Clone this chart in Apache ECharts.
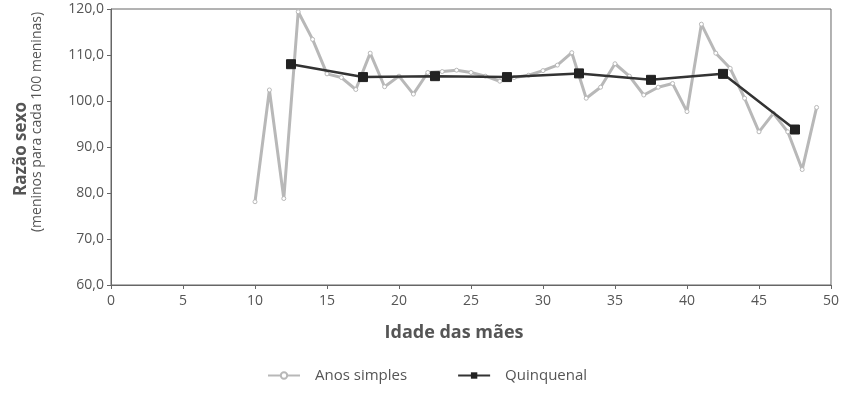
<!DOCTYPE html>
<html>
<head>
<meta charset="utf-8">
<script src="https://cdn.jsdelivr.net/npm/echarts@6/dist/echarts.min.js"></script>
<style>
  html, body { margin: 0; padding: 0; background: #fff; }
  #chart { width: 842px; height: 398px; }
</style>
</head>
<body>
<div id="chart"></div>
<script>
// Ages of the mothers (single years) and their sex ratio
const singleAges = [10, 11, 12, 13, 14, 15, 16, 17, 18, 19,
                    20, 21, 22, 23, 24, 25, 26, 27, 28, 29,
                    30, 31, 32, 33, 34, 35, 36, 37, 38, 39,
                    40, 41, 42, 43, 44, 45, 46, 47, 48, 49];
const singleRatio = [78.1, 102.4, 78.8, 119.4, 113.4, 105.9, 105.1, 102.5, 110.4, 103.1,
                     105.4, 101.5, 106.2, 106.4, 106.7, 106.2, 105.4, 104.3, 105.1, 105.6,
                     106.6, 107.8, 110.5, 100.6, 103.0, 108.1, 105.4, 101.3, 103.0, 103.8,
                     97.7, 116.7, 110.4, 107.1, 100.6, 93.3, 97.3, 93.3, 85.1, 98.6];

// Five-year groups, plotted at the group midpoint
const groupMid = [12.5, 17.5, 22.5, 27.5, 32.5, 37.5, 42.5, 47.5];
const groupRatio = [108.0, 105.2, 105.4, 105.2, 106.0, 104.6, 105.9, 93.8];

const textColor = '#555';
const fontFamily = '"Open Sans", "Noto Sans", sans-serif';

const chart = echarts.init(document.getElementById('chart'));

chart.setOption({
    animation: false,
    textStyle: { fontFamily: fontFamily },
    grid: {
        left: 111,
        right: 9,
        top: 9,
        bottom: 113,
        show: true,
        borderColor: '#666',
        borderWidth: 1
    },
    // axis titles placed by hand, the reference has them off-centre
    graphic: [
        {
            type: 'text',
            x: 21,
            y: 149,
            rotation: Math.PI / 2,
            style: {
                text: 'Razão sexo',
                align: 'center',
                verticalAlign: 'middle',
                fill: textColor,
                font: 'bold 17px ' + fontFamily
            }
        },
        {
            type: 'text',
            x: 37,
            y: 122,
            rotation: Math.PI / 2,
            style: {
                text: '(meninos para cada 100 meninas)',
                align: 'center',
                verticalAlign: 'middle',
                fill: textColor,
                font: '14px ' + fontFamily
            }
        },
        {
            type: 'text',
            x: 454,
            y: 333,
            style: {
                text: 'Idade das mães',
                align: 'center',
                verticalAlign: 'middle',
                fill: textColor,
                font: 'bold 18px ' + fontFamily
            }
        }
    ],
    legend: {
        left: 262,
        bottom: 10,
        itemGap: 50,
        itemWidth: 32,
        itemHeight: 8,
        textStyle: { color: textColor, fontSize: 15, fontFamily: fontFamily, padding: [0, 0, 0, 10] },
        data: ['Anos simples', 'Quinquenal']
    },
    xAxis: {
        type: 'value',
        min: 0,
        max: 50,
        interval: 5,
        axisLine: { lineStyle: { color: '#666' } },
        axisTick: { show: true, length: 4, lineStyle: { color: '#666' } },
        axisLabel: { color: textColor, fontSize: 14, margin: 9 },
        splitLine: { show: false }
    },
    yAxis: {
        type: 'value',
        min: 60,
        max: 120,
        interval: 10,
        axisLine: { show: true, lineStyle: { color: '#666' } },
        axisTick: { show: true, length: 4, lineStyle: { color: '#666' } },
        axisLabel: {
            color: textColor,
            fontSize: 14,
            margin: 7,
            formatter: v => v.toFixed(1).replace('.', ',')
        },
        splitLine: { show: false }
    },
    series: [
        {
            name: 'Anos simples',
            type: 'line',
            data: singleAges.map((a, i) => [a, singleRatio[i]]),
            symbol: 'circle',
            symbolSize: 4,
            showAllSymbol: true,
            lineStyle: { color: '#b8b8b8', width: 3 },
            itemStyle: { color: '#ffffff', borderColor: '#b8b8b8', borderWidth: 1 },
            z: 2
        },
        {
            name: 'Quinquenal',
            type: 'line',
            data: groupMid.map((m, i) => [m, groupRatio[i]]),
            symbol: 'rect',
            symbolSize: 9,
            lineStyle: { color: '#333', width: 2.5 },
            itemStyle: { color: '#222', borderColor: '#222' },
            z: 3
        }
    ]
});
</script>
</body>
</html>
